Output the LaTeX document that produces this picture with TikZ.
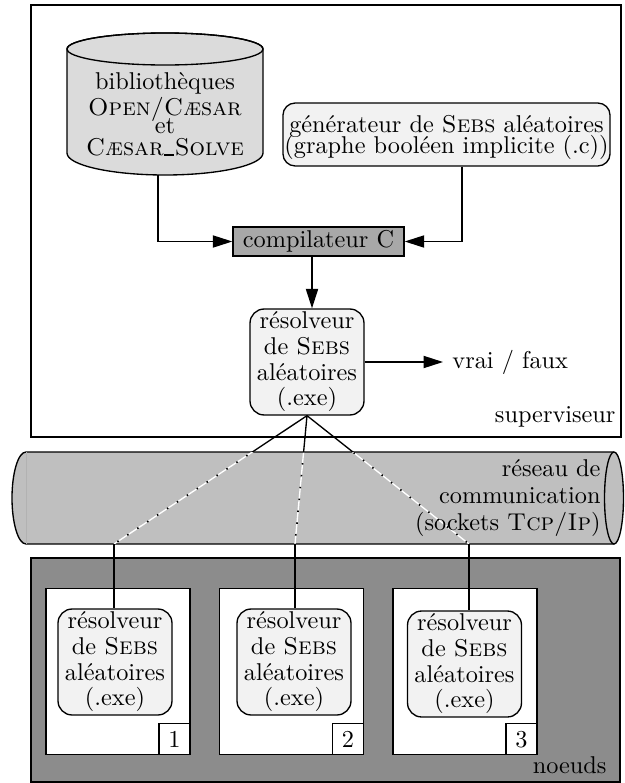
\documentclass[tikz,border=0pt]{standalone}
\usetikzlibrary{arrows.meta,calc}
\definecolor{dbfill}{gray}{0.86}
\definecolor{nodefill}{gray}{0.95}
\definecolor{compfill}{gray}{0.66}
\definecolor{netfill}{gray}{0.75}
\definecolor{darkfill}{gray}{0.55}
\newcommand{\uscore}{\kern0.3pt\rule[-0.4pt]{4pt}{0.8pt}\kern0.3pt}
% fixed line spacing for multi-line labels
\newcommand{\tightlines}[1]{\fontsize{10}{#1}\selectfont\lineskiplimit=-20pt\lineskip=0pt}
\begin{document}
\begin{tikzpicture}[x=0.4115pt, y=-0.4115pt,
  every node/.style={inner sep=0pt},
  frame/.style={draw, line width=0.55pt},
  wire/.style={line width=0.55pt},
  arr/.style={wire, -{Triangle[length=8pt,width=5pt]}},
  solver/.style={draw, line width=0.55pt, fill=nodefill, rounded corners=5.8pt,
    minimum width=46.9pt, minimum height=43.6pt, align=center,
    font=\tightlines{10.55pt}},
  host/.style={draw, line width=0.55pt, fill=white, minimum width=59.3pt, minimum height=68.5pt},
  tag/.style={draw, line width=0.55pt, fill=white, minimum size=12.76pt, anchor=south east},
]
\useasboundingbox (0,0) rectangle (624,783);

% supervisor frame
\draw[frame, fill=white] (31,5) rectangle (621,437);
\node[anchor=base east] (sup) at (616,422) {superviseur};

% library drum
\filldraw[frame, fill=dbfill] (67,49) -- (67,153)
  arc[start angle=180, end angle=0, x radius=98, y radius=22] -- (263,49)
  arc[start angle=0, end angle=-180, x radius=98, y radius=16] -- cycle;
\draw[frame] (165,49) ellipse[x radius=98, y radius=16];
\node[align=center, font=\tightlines{10.5pt}] (lib) at (165,114.2)
  {bibliothèques\\[0.2pt]\textsc{Open/Cæsar}\\[-3.1pt]et\\[-1.4pt]\textsc{Cæsar\uscore Solve}};
\coordinate (libout) at (158,175);

% generator
\node[frame, fill=nodefill, rounded corners=5pt, minimum width=134.6pt, minimum height=25.9pt]
  (gen) at (446.5,134.5) {};
\node[align=center, font=\tightlines{8.9pt}] (gentxt) at (446.5,137.5)
  {générateur de \textsc{Sebs} aléatoires\\(graphe booléen implicite (.c))};

% compiler
\node[frame, fill=compfill, minimum width=70.4pt, minimum height=11.9pt] (cc) at (318.5,241.5) {compilateur C};

% central solver
\node[solver] (res) at (307,362) {résolveur\\de \textsc{Sebs}\\aléatoires\\(.exe)};
\node[anchor=west] (vf) at (452,362) {vrai / faux};

\draw[arr] (libout) |- (cc.west);
\draw[arr] ($(gen.south)+(15.5,0)$) |- (cc.east);
\draw[arr] ($(cc.south)+(-6.5,0)$) -- ($(res.north)+(5,0)$);
\draw[arr] (res.east) -- ([xshift=-3.7pt]vf.west);

% links towards the worker nodes
\coordinate (c1) at (114,544);
\coordinate (c2) at (295,544);
\coordinate (c3) at (469,544);
\draw[wire] (res.south) -- (c1);
\draw[wire] (res.south) -- (c2);
\draw[wire] (res.south) -- (c3);

% communication network pipe
\fill[netfill] (614,452) -- (26,452)
  arc[start angle=270, end angle=90, x radius=14, y radius=46] -- (614,544) -- cycle;
\draw[frame] (614,452) -- (26,452)
  arc[start angle=270, end angle=90, x radius=14, y radius=46] -- (614,544);
\draw[gray!60, line width=0.3pt] (26,452) -- (26,544);
\filldraw[frame, fill=netfill] (614,498) ellipse[x radius=9.5, y radius=46];
\begin{scope}
  \clip (26,452) rectangle (604,544);
  \foreach \c in {c1,c2,c3} {
    \draw[white, line width=0.55pt] (res.south) -- (\c);
    \draw[line width=0.7pt, dash pattern=on 0.6pt off 4.3pt] (res.south) -- (\c);
  }
\end{scope}
\node[anchor=east, align=right, font=\tightlines{11.1pt}] (net) at (601,498.5)
  {réseau de\\communication\\(sockets \textsc{Tcp/Ip})};

% worker nodes
\draw[frame, fill=darkfill] (31,558) rectangle (620,782);
\node[anchor=base east] (nd) at (607,773) {noeuds};

\node[host] (h1) at (118,671.5) {};
\node[host] (h2) at (291.5,671.5) {};
\node[host] (h3) at (465,671.5) {};
\node[tag] (t1) at (h1.south east) {1};
\node[tag] (t2) at (h2.south east) {2};
\node[tag] (t3) at (h3.south east) {3};

\node[solver] (n1) at (115,662) {résolveur\\de \textsc{Sebs}\\aléatoires\\(.exe)};
\node[solver] (n2) at (294,662) {résolveur\\de \textsc{Sebs}\\aléatoires\\(.exe)};
\node[solver] (n3) at (464.5,664) {résolveur\\de \textsc{Sebs}\\aléatoires\\(.exe)};

\draw[wire] (c1) -- (c1 |- n1.north);
\draw[wire] (c2) -- (c2 |- n2.north);
\draw[wire] (c3) -- (c3 |- n3.north);
\end{tikzpicture}
\end{document}
